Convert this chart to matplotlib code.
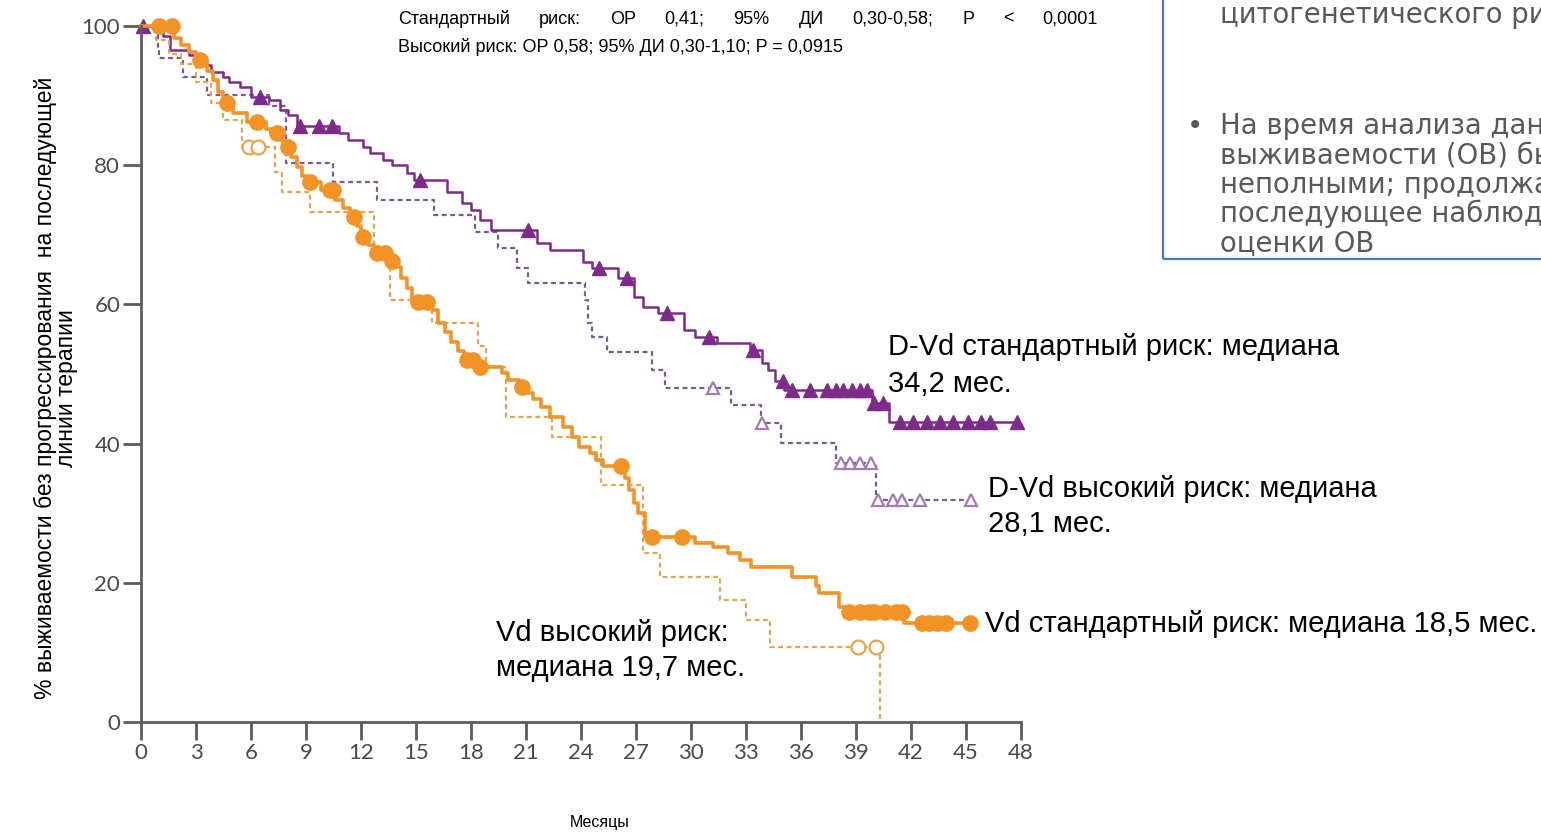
import numpy as np
import matplotlib
matplotlib.use("Agg")
import matplotlib.pyplot as plt
from matplotlib.patches import Rectangle

# ---------------- data ----------------
# D-Vd, standard cytogenetic risk (solid purple)
dvd_std_t = [1.2, 1.6, 2.6, 3.3, 3.8, 4.5, 4.8, 5.4, 6.0, 7.0, 7.6, 8.0, 8.5, 10.8, 11.3,
             12.1, 12.5, 13.2, 13.7, 14.5, 14.9, 16.7, 17.5, 18.0, 18.5, 19.1, 21.6, 22.3,
             24.1, 24.6, 26.0, 26.9, 27.4, 28.2, 29.6, 30.2, 31.4, 33.2, 33.9, 34.2, 34.6,
             35.1, 39.9, 40.8]
dvd_std_s = [98.5, 96.6, 95.8, 94.4, 93.4, 92.7, 92.0, 91.2, 89.8, 89.4, 87.9, 87.2, 85.6,
             84.6, 83.6, 82.6, 81.8, 80.7, 80.0, 78.9, 77.9, 76.1, 74.6, 73.6, 72.1, 70.7,
             68.8, 67.8, 66.1, 65.2, 63.8, 61.1, 59.6, 58.8, 56.3, 55.3, 54.4, 53.4, 51.6,
             50.6, 49.0, 47.7, 45.8, 43.1]
dvd_std_end = 47.8
dvd_std_cens = [0.1, 6.5, 8.7, 9.7, 10.4, 15.2, 21.1, 25.0, 26.5, 28.7, 31.0, 33.4, 35.0,
                35.5, 36.5, 37.4, 37.9, 38.3, 38.8, 39.2, 39.6, 40.0, 40.5, 41.4, 42.1, 42.9,
                43.6, 44.3, 45.1, 45.8, 46.3, 47.8]

# D-Vd, high cytogenetic risk (dashed purple)
dvd_high_t = [0.9, 1.0, 2.3, 3.6, 7.0, 7.9, 10.5, 12.9, 16.0, 18.2, 19.5, 20.5, 21.1, 24.2,
              24.4, 24.6, 25.4, 27.9, 28.6, 32.2, 33.8, 34.9, 37.9, 40.1]
dvd_high_s = [96.8, 95.4, 92.7, 90.1, 88.5, 80.3, 77.6, 75.0, 72.8, 70.4, 68.1, 65.2, 63.1,
              60.6, 57.3, 55.3, 53.2, 50.6, 48.0, 45.5, 43.0, 40.1, 37.2, 31.9]
dvd_high_end = 45.3
dvd_high_cens = [31.2, 33.9, 38.2, 38.7, 39.2, 39.8, 40.2, 41.0, 41.5, 42.5, 45.3]

# Vd, standard cytogenetic risk (solid orange)
vd_std_t = [1.8, 2.2, 2.6, 3.0, 3.6, 3.9, 4.2, 4.5, 5.0, 5.8, 6.8, 7.1, 7.7, 7.9, 8.2, 8.5,
            8.8, 9.0, 9.8, 10.6, 11.0, 11.4, 11.8, 12.0, 12.4, 12.7, 13.5, 13.8, 14.2, 14.5,
            14.8, 15.9, 16.2, 16.6, 16.9, 17.3, 17.6, 18.3, 19.7, 20.0, 20.6, 21.1, 21.4,
            21.8, 22.3, 23.0, 23.5, 23.9, 24.5, 24.8, 25.2, 26.4, 26.6, 26.9, 27.1, 27.5,
            30.2, 31.2, 32.0, 32.7, 33.3, 35.5, 36.8, 37.0, 38.1, 38.4, 41.6]
vd_std_s = [98.3, 97.3, 96.2, 95.1, 93.5, 92.2, 90.5, 88.9, 87.5, 86.2, 85.2, 84.6, 83.5,
            82.6, 81.2, 79.8, 78.5, 77.6, 76.4, 75.0, 73.8, 72.6, 71.2, 69.7, 68.5, 67.4,
            66.2, 65.4, 63.8, 62.3, 60.3, 59.2, 57.3, 56.0, 54.6, 53.3, 52.0, 51.0, 50.1,
            49.1, 48.1, 47.2, 46.4, 45.3, 43.8, 42.4, 41.0, 39.5, 38.6, 37.6, 36.8, 35.0,
            33.3, 31.5, 30.0, 26.6, 25.7, 25.1, 24.3, 23.3, 22.3, 20.8, 19.6, 18.5, 16.5,
            15.8, 14.2]
vd_std_end = 45.2
vd_std_cens = [1.0, 1.7, 3.2, 4.7, 6.3, 7.4, 8.0, 9.2, 10.3, 10.5, 11.6, 12.1, 12.9, 13.3,
               13.7, 15.1, 15.6, 17.8, 18.1, 18.5, 20.8, 26.2, 27.9, 29.5, 38.6, 39.2, 39.7,
               40.0, 40.6, 41.2, 41.5, 42.6, 43.0, 43.4, 43.9, 45.2]

# Vd, high cytogenetic risk (dashed orange)
vd_high_t = [0.8, 1.5, 2.2, 3.0, 3.8, 4.5, 5.5, 7.3, 7.7, 9.2, 12.7, 13.6, 15.9, 18.4, 18.8,
             19.9, 22.4, 25.1, 27.4, 28.3, 31.6, 33.0, 34.3, 40.3]
vd_high_s = [98.0, 96.0, 94.5, 92.0, 88.9, 86.5, 82.6, 79.0, 76.1, 73.3, 67.5, 60.6, 57.3,
             54.0, 51.0, 43.8, 41.0, 34.1, 24.3, 20.8, 17.5, 14.7, 10.8, 0.0]
vd_high_end = 40.3
vd_high_cens = [5.9, 6.4, 39.1, 40.1]

x_ticks = list(range(0, 49, 3))
y_ticks = [0, 20, 40, 60, 80, 100]

stats_std_words = ["Стандартный", "риск:", "ОР", "0,41;", "95%", "ДИ", "0,30-0,58;", "P", "<", "0,0001"]
stats_high = "Высокий риск: ОР 0,58; 95% ДИ 0,30-1,10; P = 0,0915"

# ---------------- helpers ----------------
W, H = 1541, 839


def px(x, y):
    return x / W, 1 - y / H


def km_xy(t, s, end):
    xs = np.concatenate([[0.0], t, [end]])
    ys = np.concatenate([[100.0], s, [s[-1]]])
    return xs, ys


def km_at(t, s, times):
    t = np.asarray(t)
    vals = np.concatenate([[100.0], s])
    idx = np.searchsorted(t, np.asarray(times), side="right")
    return vals[idx]


fig = plt.figure(figsize=(W / 100, H / 100), dpi=100)
ax = fig.add_axes([141 / W, (H - 722) / H, 880 / W, 696 / H])

PURPLE = "#7d2a8b"
PURPLE_D = "#7a5a92"
PURPLE_O = "#a57ab6"
ORANGE = "#f39325"
ORANGE_D = "#e5a54c"

# D-Vd high risk
x, y = km_xy(dvd_high_t, dvd_high_s, dvd_high_end)
ax.plot(x, y, drawstyle="steps-post", color=PURPLE_D, lw=1.6, dashes=(2.2, 1.6), clip_on=False)
ax.plot(dvd_high_cens, km_at(dvd_high_t, dvd_high_s, dvd_high_cens), ls="none", marker="^",
        ms=9, mfc="white", mec=PURPLE_O, mew=1.6, clip_on=False)

# D-Vd standard risk
x, y = km_xy(dvd_std_t, dvd_std_s, dvd_std_end)
ax.plot(x, y, drawstyle="steps-post", color=PURPLE, lw=1.8, clip_on=False)
ax.plot(dvd_std_cens, km_at(dvd_std_t, dvd_std_s, dvd_std_cens), ls="none", marker="^",
        ms=10, color=PURPLE, clip_on=False)

# Vd high risk
x, y = km_xy(vd_high_t, vd_high_s, vd_high_end)
ax.plot(x, y, drawstyle="steps-post", color=ORANGE_D, lw=1.6, dashes=(2.2, 1.6), clip_on=False)
ax.plot(vd_high_cens, km_at(vd_high_t, vd_high_s, vd_high_cens), ls="none", marker="o",
        ms=10, mfc="white", mec=ORANGE_D, mew=1.6, clip_on=False)

# Vd standard risk
x, y = km_xy(vd_std_t, vd_std_s, vd_std_end)
ax.plot(x, y, drawstyle="steps-post", color=ORANGE, lw=2.6, clip_on=False)
ax.plot(vd_std_cens, km_at(vd_std_t, vd_std_s, vd_std_cens), ls="none", marker="o",
        ms=11, color=ORANGE, clip_on=False)

# axes styling
ax.set_xlim(0, 48)
ax.set_ylim(0, 100)
for side in ("top", "right"):
    ax.spines[side].set_visible(False)
for side in ("left", "bottom"):
    ax.spines[side].set_color("#5c5c5c")
    ax.spines[side].set_linewidth(2)
ax.set_xticks(x_ticks)
ax.set_yticks(y_ticks)
ax.tick_params(direction="out", length=13, width=2, color="#5c5c5c",
               labelsize=16, labelcolor="#4a4a4a", pad=2)
for lab in ax.get_xticklabels() + ax.get_yticklabels():
    lab.set_family("Lato")

# axis titles
fig.text(*px(45, 388), "% выживаемости без прогрессирования  на последующей",
         rotation=90, ha="center", va="center", fontsize=16.5, family="Liberation Sans")
fig.text(*px(67, 388), "линии терапии", rotation=90, ha="center", va="center",
         fontsize=16.5, family="Liberation Sans")
fig.text(*px(600, 822), "Месяцы", ha="center", va="center", fontsize=11.5,
         family="Liberation Sans")

# curve labels
lab_kw = dict(fontsize=21, family="Liberation Sans", color="black", va="center", ha="left")
fig.text(*px(888, 347), "D-Vd стандартный риск: медиана", **lab_kw)
fig.text(*px(888, 384), "34,2 мес.", **lab_kw)
fig.text(*px(988, 489), "D-Vd высокий риск: медиана", **lab_kw)
fig.text(*px(988, 524), "28,1 мес.", **lab_kw)
fig.text(*px(496, 633), "Vd высокий риск:", **lab_kw)
fig.text(*px(496, 668), "медиана 19,7 мес.", **lab_kw)
fig.text(*px(985, 624), "Vd стандартный риск: медиана 18,5 мес.", **lab_kw)

# hazard ratio lines (first line justified)
st_kw = dict(fontsize=13, family="Liberation Sans", color="black", va="center", ha="left")
words = [fig.text(0, 0, w, **st_kw) for w in stats_std_words]
fig.canvas.draw()
r = fig.canvas.get_renderer()
widths = [w.get_window_extent(r).width for w in words]
x0, x1 = 398, 1098
gap = (x1 - x0 - sum(widths)) / (len(words) - 1)
cx = x0
for w, wd in zip(words, widths):
    w.set_position(px(cx, 19))
    cx += wd + gap
fig.text(*px(398, 47), stats_high, **st_kw)

# side note box
fig.patches.append(Rectangle(px(1163, 259), (1600 - 1163) / W, (259 + 20) / H,
                             transform=fig.transFigure, fill=False, ec="#4a78c8", lw=1.6))
box_kw = dict(fontsize=19.8, family="DejaVu Sans", color="#595959", va="center", ha="left")
fig.text(*px(1220, 15), "цитогенетического риска", **box_kw)
fig.text(*px(1187, 126), "•", **box_kw)
note_lines = ["На время анализа данные общей", "выживаемости (ОВ) были",
              "неполными; продолжается", "последующее наблюдение для", "оценки ОВ"]
for i, line in enumerate(note_lines):
    fig.text(*px(1220, 126 + 29.3 * i), line, **box_kw)

fig.savefig("out.png", dpi=100)
